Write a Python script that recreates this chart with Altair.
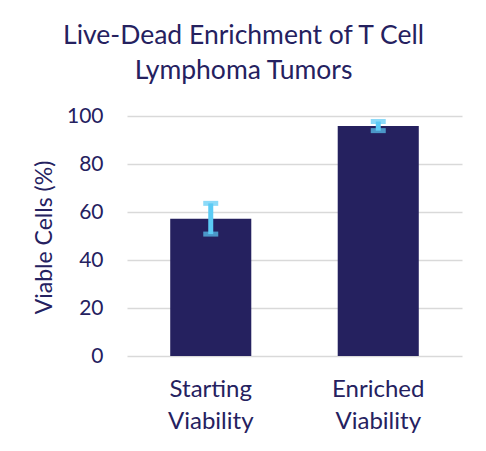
import altair as alt
import pandas as pd

categories = ["Starting Viability", "Enriched Viability"]
means = [57.2, 95.8]
errors = [6.4, 1.9]

df = pd.DataFrame({"cat": categories, "mean": means, "err": errors})
df["lo"] = df["mean"] - df["err"]
df["hi"] = df["mean"] + df["err"]

NAVY = "#25215F"
CYAN = "#5BCBF5"
FONT = "Lato"

x = alt.X("cat:N", sort=categories, title=None,
          scale=alt.Scale(paddingInner=0.516, paddingOuter=0.258),
          axis=alt.Axis(labelExpr="split(datum.label, ' ')", labelAngle=0,
                        labelFontSize=24, labelColor=NAVY, labelFont=FONT,
                        labelLineHeight=32, labelPadding=21, ticks=False,
                        domain=False, labelBaseline="top"))
y = alt.Y("mean:Q", title="Viable Cells (%)",
          scale=alt.Scale(domain=[0, 100]),
          axis=alt.Axis(values=[0, 20, 40, 60, 80, 100], ticks=False, domain=False,
                        labelFontSize=21, labelColor=NAVY, labelFont=FONT,
                        labelPadding=24, gridColor="#D9D9D9", gridWidth=1.5,
                        titleFontSize=23, titleColor=NAVY, titleFont=FONT,
                        titleFontWeight="normal", titleX=-83, titleY=121,
                        titleAngle=-90, titleAlign="center", titleBaseline="middle"))

bars = alt.Chart(df).mark_bar(color=NAVY).encode(x=x, y=y)
stem = alt.Chart(df).mark_rule(color=CYAN, strokeWidth=5).encode(
    x=alt.X("cat:N", sort=categories), y="lo:Q", y2="hi:Q")
cap_lo = alt.Chart(df).mark_tick(color=CYAN, thickness=5, size=15).encode(
    x=alt.X("cat:N", sort=categories), y="lo:Q")
cap_hi = alt.Chart(df).mark_tick(color=CYAN, thickness=5, size=15).encode(
    x=alt.X("cat:N", sort=categories), y="hi:Q")

chart = alt.layer(bars, stem, cap_lo, cap_hi).properties(
    width=335, height=240,
    autosize=alt.AutoSizeParams(type="none"),
    padding={"left": 119, "top": 108, "right": 16, "bottom": 87},
    title=alt.TitleParams(
        text=["Live-Dead Enrichment of T Cell", "Lymphoma Tumors"],
        fontSize=26.5, font=FONT, color=NAVY, fontWeight="normal",
        lineHeight=35, anchor="middle", dx=-51, offset=21),
).configure_view(stroke=None)

chart.save("out.html", embed_options={"renderer": "svg", "actions": False})
